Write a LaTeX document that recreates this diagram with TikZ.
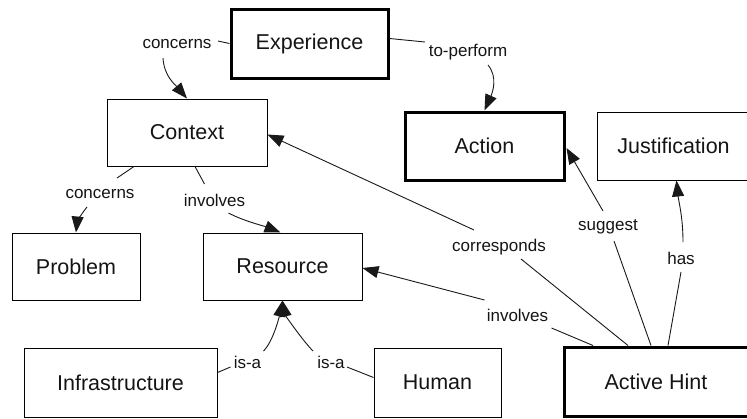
\documentclass[tikz,border=0pt]{standalone}
\usepackage{fontspec}
\setmainfont{Liberation Sans}
\usetikzlibrary{arrows.meta,calc}
\begin{document}
\begin{tikzpicture}[x=1pt,y=-1pt,
  box/.style={draw=black, line width=1pt, inner sep=0pt, font=\fontsize{21.5}{24}\selectfont, text=black!92},
  boldbox/.style={box, line width=3pt},
  lab/.style={inner sep=0pt, font=\fontsize{17}{20}\selectfont, text=black!92},
  con/.style={line width=0.9pt, draw=black!90},
  arr/.style={con, -{Triangle[length=16pt,width=12pt]}}]
\useasboundingbox (0,0) rectangle (747,418);
\clip (0,0) rectangle (747,418);
% boxes
\node[boldbox, minimum width=157pt, minimum height=69pt] (exp) at (309.5,43.5) {Experience};
\node[box, minimum width=160pt, minimum height=67pt] (ctx) at (187,132.5) {Context};
\node[boldbox, minimum width=159pt, minimum height=68pt] (act) at (484.5,146) {Action};
\node[box, minimum width=153pt, minimum height=68pt] (jus) at (673.5,146) {Justification};
\node[box, minimum width=128pt, minimum height=67pt] (prob) at (76,266.5) {Problem};
\node[box, minimum width=159pt, minimum height=67pt] (res) at (282.5,266.5) {Resource};
\node[box, minimum width=193pt, minimum height=69pt] (inf) at (120.5,382.5) {Infrastructure};
\node[box, minimum width=127pt, minimum height=69pt] (hum) at (437.5,382.5) {Human};
\node[boldbox, minimum width=184pt, minimum height=69pt] (ah) at (656,381.5) {Active Hint};
% labels
\node[lab] (c1) at (177,44) {concerns};
\node[lab] (tp) at (468,52) {to-perform};
\node[lab] (c2) at (100,194) {concerns};
\node[lab] (i1) at (214.5,200) {involves};
\node[lab] (ia1) at (247.5,362) {is-a};
\node[lab] (ia2) at (331,362) {is-a};
\node[lab] (co) at (499,247) {corresponds};
\node[lab] (i2) at (517.5,315) {involves};
\node[lab] (sg) at (608,227) {suggest};
\node[lab] (hs) at (681,258) {has};
% connectors
\draw[con] (exp.west) -- ($(c1)+(41,-3)$);
\draw[arr] ($(c1)+(-14,14)$) .. controls +(1,18) and +(-12,-14) .. (ctx.north);
\draw[con] ($(exp.east)+(0,-5)$) -- ($(tp)+(-43,-10)$);
\draw[arr] ($(tp)+(20,13)$) .. controls +(10,12) and +(8,-18) .. (act.north);
\draw[con] ($(ctx.south)+(-53,0)$) -- ($(c2)+(17,-16)$);
\draw[arr] ($(c2)+(-13,13)$) .. controls +(-5,6) and +(1,-10) .. (prob.north);
\draw[con] ($(ctx.south)+(8,0)$) -- ($(i1)+(-10,-16)$);
\draw[arr] ($(i1)+(14,13)$) .. controls +(15,8) and +(-15,-6) .. ($(res.north)+(-2,0)$);
\draw[con] ($(inf.east)+(0,-10)$) -- ($(ia1)+(-17,5)$);
\draw[arr] ($(ia1)+(16,-11)$) .. controls +(10,-10) and +(-3,15) .. (res.south);
\draw[con] ($(hum.west)+(0,-5)$) -- ($(ia2)+(16,5)$);
\draw[arr] ($(ia2)+(-18,-11)$) .. controls +(-10,-10) and +(3,15) .. (res.south);
\draw[con] ($(ah.north)+(-28,0)$) -- ($(co)+(22,12)$);
\draw[arr] ($(co)+(-25,-17)$) -- ($(ctx.east)+(0,2)$);
\draw[con] ($(ah.north)+(-63,0)$) -- ($(i2)+(34,13)$);
\draw[arr] ($(i2)+(-33,-15)$) -- ($(res.east)+(0,1.5)$);
\draw[con] ($(ah.north)+(-5,0)$) -- ($(sg)+(6,14)$);
\draw[arr] ($(sg)+(-5,-16)$) -- ($(act.east)+(1,2)$);
\draw[con] ($(ah.north)+(12,0)$) -- ($(hs)+(0,14)$);
\draw[arr] ($(hs)+(2,-16)$) .. controls +(0,-25) and +(2,20) .. ($(jus.south)+(3,0)$);
\end{tikzpicture}
\end{document}
